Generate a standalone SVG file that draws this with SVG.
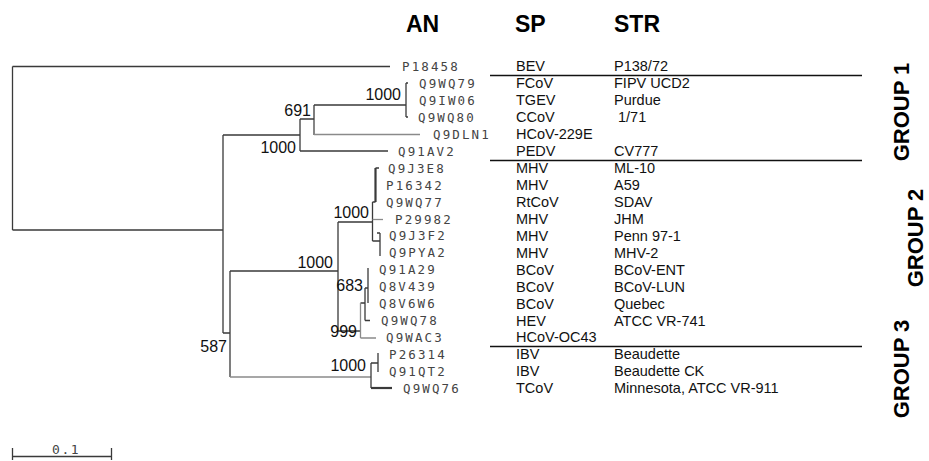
<svg xmlns="http://www.w3.org/2000/svg" width="929" height="461" viewBox="0 0 929 461">
<style>
.br{fill:none;stroke:#3a3a3a;stroke-width:1.3}
.lt{stroke:#8a8a8a}
.th{stroke-width:2.2}
.leaf{font-family:"DejaVu Sans Mono","Liberation Mono",monospace;font-size:12.5px;letter-spacing:2.1px;fill:#444}
.bs{font-family:"Liberation Sans",Arial,sans-serif;font-size:16px;fill:#111;text-anchor:end}
.col{font-family:"Liberation Sans",Arial,sans-serif;font-size:14.5px;fill:#111}
.hd{font-family:"Liberation Sans",Arial,sans-serif;font-size:23px;font-weight:bold;fill:#000}
.grp{font-family:"Liberation Sans",Arial,sans-serif;font-size:22px;font-weight:bold;fill:#000;text-anchor:middle}
.sep{stroke:#111;stroke-width:1.3}
</style>
<rect width="929" height="461" fill="#fff"/>
<g id="headers">
<text class="hd" x="406" y="31.5">AN</text>
<text class="hd" x="515" y="31.5">SP</text>
<text class="hd" x="614" y="31.5">STR</text>
</g>
<g id="connectors">
<path class="br" d="M12.5,66.5H390 M12.5,66.5V230 M12.5,230H223 M223,135V333 M223,135H300 M300,119V151 M300,151H388 M300,119H314 M314,105V135 M314,105H406 M406,83V117 M406,83H408 M406,117H408"/>
<path class="br lt" d="M314,120V135 M314,134.5H420"/>
<path class="br" d="M223,333H230 M230,271V377 M230,271H338 M338,222V331 M338,222H372.5 M372.5,202V241 M372.5,202H375.5 M375.5,168H379 M372.5,241H380 M380,233V256 M377,233H380"/>
<path class="br th" d="M375.5,168V202"/>
<path class="br lt" d="M372.5,219.5H383"/>
<path class="br" d="M338,331H360.5 M360.5,303H365 M365,288V320.5 M365,320.5H370 M365,288H368 M368,268V303"/>
<path class="br lt" d="M360.5,303V338 M360.5,338H376"/>
<path class="br lt" d="M230,377H371"/>
<path class="br" d="M371,363V388 M371,363H378 M378,353V372"/>
<path class="br th" d="M371,388H392"/>
</g>
<g id="bootstrap">
<text class="bs" x="311" y="116">691</text>
<text class="bs" x="296" y="153">1000</text>
<text class="bs" x="401" y="100">1000</text>
<text class="bs" x="369" y="218">1000</text>
<text class="bs" x="333" y="268">1000</text>
<text class="bs" x="363" y="291">683</text>
<text class="bs" x="357" y="337">999</text>
<text class="bs" x="227" y="352">587</text>
<text class="bs" x="366" y="371">1000</text>
</g>
<g id="leaves">
<text class="leaf" x="402" y="70.5">P18458</text>
<text class="leaf" x="419" y="87.5">Q9WQ79</text>
<text class="leaf" x="419" y="104.5">Q9IW06</text>
<text class="leaf" x="418" y="121.5">Q9WQ80</text>
<text class="leaf" x="433" y="138.5">Q9DLN1</text>
<text class="leaf" x="398" y="155.5">Q91AV2</text>
<text class="leaf" x="388" y="172.5">Q9J3E8</text>
<text class="leaf" x="386" y="189.5">P16342</text>
<text class="leaf" x="386" y="206.5">Q9WQ77</text>
<text class="leaf" x="395" y="223.5">P29982</text>
<text class="leaf" x="389" y="240">Q9J3F2</text>
<text class="leaf" x="389" y="257">Q9PYA2</text>
<text class="leaf" x="379" y="274">Q91A29</text>
<text class="leaf" x="379" y="291">Q8V439</text>
<text class="leaf" x="379" y="308">Q8V6W6</text>
<text class="leaf" x="381" y="325">Q9WQ78</text>
<text class="leaf" x="386" y="341.5">Q9WAC3</text>
<text class="leaf" x="389" y="358.5">P26314</text>
<text class="leaf" x="389" y="375.5">Q91QT2</text>
<text class="leaf" x="403" y="392.5">Q9WQ76</text>
</g>
<g id="species">
<text class="col" x="516" y="71">BEV</text>
<text class="col" x="516" y="88">FCoV</text>
<text class="col" x="516" y="105">TGEV</text>
<text class="col" x="516" y="122">CCoV</text>
<text class="col" x="516" y="139">HCoV-229E</text>
<text class="col" x="516" y="156">PEDV</text>
<text class="col" x="516" y="173">MHV</text>
<text class="col" x="516" y="190">MHV</text>
<text class="col" x="516" y="207">RtCoV</text>
<text class="col" x="516" y="224">MHV</text>
<text class="col" x="516" y="240.5">MHV</text>
<text class="col" x="516" y="257.5">MHV</text>
<text class="col" x="516" y="274.5">BCoV</text>
<text class="col" x="516" y="291.5">BCoV</text>
<text class="col" x="516" y="308.5">BCoV</text>
<text class="col" x="516" y="325.5">HEV</text>
<text class="col" x="516" y="342">HCoV-OC43</text>
<text class="col" x="516" y="359">IBV</text>
<text class="col" x="516" y="376">IBV</text>
<text class="col" x="516" y="393">TCoV</text>
</g>
<g id="strains">
<text class="col" x="614" y="71">P138/72</text>
<text class="col" x="614" y="88">FIPV UCD2</text>
<text class="col" x="614" y="105">Purdue</text>
<text class="col" x="618" y="122">1/71</text>
<text class="col" x="614" y="156">CV777</text>
<text class="col" x="614" y="173">ML-10</text>
<text class="col" x="614" y="190">A59</text>
<text class="col" x="614" y="207">SDAV</text>
<text class="col" x="614" y="224">JHM</text>
<text class="col" x="614" y="240.5">Penn 97-1</text>
<text class="col" x="614" y="257.5">MHV-2</text>
<text class="col" x="614" y="274.5">BCoV-ENT</text>
<text class="col" x="614" y="291.5">BCoV-LUN</text>
<text class="col" x="614" y="308.5">Quebec</text>
<text class="col" x="614" y="325.5">ATCC VR-741</text>
<text class="col" x="614" y="359">Beaudette</text>
<text class="col" x="614" y="376">Beaudette CK</text>
<text class="col" x="614" y="393">Minnesota, ATCC VR-911</text>
</g>
<g id="separators">
<path class="sep" d="M490,75.5H862 M490,160.5H862 M490,346.5H862"/>
</g>
<g id="groups">
<text class="grp" transform="translate(909,112) rotate(-90)">GROUP 1</text>
<text class="grp" transform="translate(923,238) rotate(-90)">GROUP 2</text>
<text class="grp" transform="translate(909,369) rotate(-90)">GROUP 3</text>
</g>
<g id="scalebar">
<path class="br" d="M12.5,456.5H111.5 M12.5,448V460 M111.5,448V460"/>
<text class="leaf" x="52" y="453.5" style="font-size:13px;letter-spacing:1.6px">0.1</text>
</g>
</svg>
